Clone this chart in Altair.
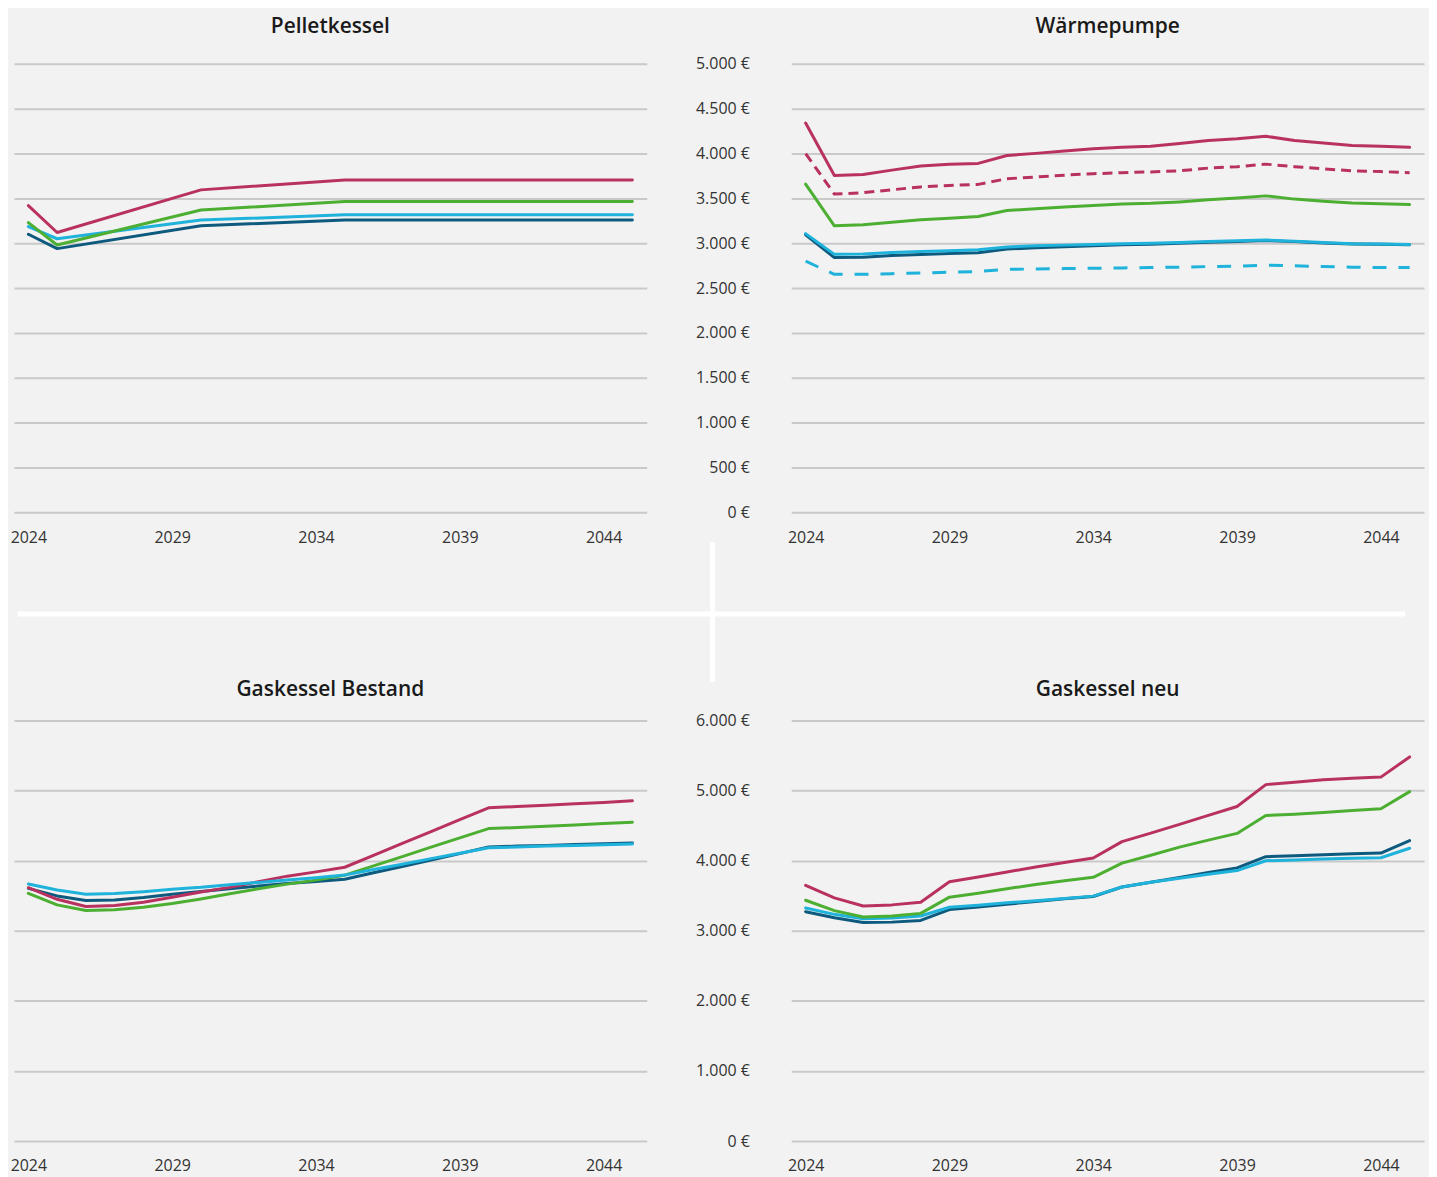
import altair as alt
import pandas as pd

years = list(range(2024, 2046))

# Pelletkessel (straight segments between these years)
pellet_years = [2024, 2025, 2030, 2035, 2045]
pellet_red = [3420, 3120, 3595, 3705, 3705]
pellet_green = [3230, 2980, 3370, 3465, 3465]
pellet_cyan = [3185, 3050, 3258, 3317, 3317]
pellet_dark = [3100, 2940, 3195, 3258, 3258]

# Wärmepumpe
wp_red = [4340, 3755, 3767, 3815, 3862, 3882, 3890, 3978, 4002, 4029, 4053,
          4069, 4081, 4113, 4145, 4165, 4193, 4145, 4117, 4089, 4081, 4069]
wp_red_dash = [4000, 3548, 3564, 3596, 3628, 3644, 3656, 3719, 3739, 3759, 3775,
               3787, 3795, 3807, 3838, 3854, 3882, 3854, 3830, 3807, 3799, 3787]
wp_green = [3659, 3194, 3206, 3234, 3262, 3278, 3298, 3365, 3385, 3405, 3421,
            3437, 3445, 3461, 3484, 3504, 3528, 3492, 3469, 3449, 3441, 3433]
wp_cyan = [3107, 2876, 2880, 2896, 2908, 2916, 2928, 2959, 2971, 2979, 2987,
           2995, 2999, 3007, 3019, 3027, 3035, 3023, 3007, 2995, 2991, 2987]
wp_dark = [3095, 2840, 2845, 2862, 2875, 2885, 2895, 2935, 2950, 2962, 2972,
           2982, 2990, 3000, 3012, 3020, 3030, 3018, 3003, 2992, 2988, 2984]
wp_cyan_dash = [2800, 2653, 2653, 2661, 2669, 2677, 2685, 2709, 2713, 2717, 2721,
                2725, 2729, 2733, 2740, 2744, 2756, 2748, 2740, 2733, 2729, 2729]

# Gaskessel Bestand
gb_red = [3615, 3450, 3346, 3360, 3407, 3478, 3554, 3620, 3700, 3780, 3841,
          3907, 4077, 4246, 4416, 4586, 4755, 4774, 4793, 4812, 4831, 4855]
gb_green = [3535, 3370, 3290, 3300, 3337, 3389, 3455, 3530, 3600, 3666, 3723,
            3794, 3927, 4058, 4195, 4327, 4459, 4473, 4492, 4511, 4530, 4549]
gb_cyan = [3667, 3582, 3521, 3531, 3559, 3592, 3620, 3658, 3691, 3724, 3757,
           3795, 3875, 3950, 4030, 4106, 4186, 4195, 4209, 4219, 4228, 4238]
gb_dark = [3606, 3498, 3432, 3441, 3474, 3521, 3560, 3600, 3640, 3675, 3705,
           3735, 3828, 3917, 4011, 4101, 4195, 4209, 4219, 4233, 4242, 4252]

# Gaskessel neu
gn_red = [3648, 3470, 3355, 3370, 3408, 3700, 3767, 3839, 3911, 3974, 4038,
          4273, 4393, 4518, 4648, 4774, 5086, 5120, 5154, 5178, 5193, 5481]
gn_green = [3436, 3288, 3196, 3211, 3249, 3480, 3537, 3600, 3662, 3715, 3763,
            3965, 4078, 4194, 4294, 4390, 4645, 4664, 4688, 4717, 4741, 4986]
gn_cyan = [3326, 3235, 3172, 3182, 3211, 3336, 3366, 3399, 3428, 3462, 3495,
           3625, 3692, 3750, 3807, 3860, 4000, 4009, 4024, 4034, 4043, 4178]
gn_dark = [3273, 3186, 3119, 3124, 3148, 3303, 3340, 3380, 3418, 3456, 3490,
           3625, 3692, 3760, 3831, 3898, 4058, 4072, 4086, 4100, 4110, 4288]

x_ticks = [2024, 2029, 2034, 2039, 2044]

RED = "#b9325f"
GREEN = "#4caf32"
CYAN = "#1fb2db"
DARK = "#0e5a7e"
GRID = "#c9c9c9"
BG = "#f2f2f2"
FONT = "Open Sans"


def panel(yrs, series, ymax, ystep, show_labels):
    x_enc = alt.X(
        "Jahr:Q",
        scale=alt.Scale(domain=[2023.5, 2045.5], nice=False, zero=False),
        axis=alt.Axis(values=x_ticks, format="d", labelFlush=False, grid=False,
                      domain=False, ticks=False, labelPadding=17, title=None,
                      labelFontSize=16, labelColor="#333333", labelFont=FONT),
    )
    y_axis_kwargs = dict(values=list(range(0, ymax + 1, ystep)), grid=True,
                         gridColor=GRID, gridWidth=2, domain=False, ticks=False,
                         title=None, labels=show_labels)
    if show_labels:
        y_axis_kwargs.update(
            labelExpr="replace(format(datum.value, ',d'), ',', '.') + ' €'",
            labelPadding=42, labelFontSize=16, labelColor="#333333",
            labelFont=FONT)
    y_enc = alt.Y("Wert:Q", scale=alt.Scale(domain=[0, ymax], nice=False),
                  axis=alt.Axis(**y_axis_kwargs))
    layers = []
    for vals, color, dash in series:
        df = pd.DataFrame({"Jahr": yrs, "Wert": vals})
        kw = dict(color=color, strokeWidth=3, strokeJoin="round")
        if dash:
            kw["strokeDash"] = dash
        else:
            kw["strokeCap"] = "round"
        layers.append(alt.Chart(df).mark_line(**kw).encode(x=x_enc, y=y_enc))
    return layers


def finish(layers, title, width, height, title_offset):
    return alt.layer(*layers).properties(
        width=width, height=height,
        title=alt.TitleParams(title, fontSize=21, fontWeight=600, font=FONT,
                              color="#1a1a1a", frame="group", anchor="middle",
                              offset=title_offset),
    )


p1_layers = panel(pellet_years,
                  [(pellet_dark, DARK, None), (pellet_cyan, CYAN, None),
                   (pellet_green, GREEN, None), (pellet_red, RED, None)],
                  5000, 500, False)
# decorative white divider cross between the panels
dummy = pd.DataFrame({"d": [0]})
hline = alt.Chart(dummy).mark_rule(color="white", strokeWidth=5).encode(
    x=alt.value(4), x2=alt.value(1396), y=alt.value(552))
vline = alt.Chart(dummy).mark_rule(color="white", strokeWidth=5).encode(
    x=alt.value(701), y=alt.value(480), y2=alt.value(620))
p1 = finish(p1_layers + [hline, vline], "Pelletkessel", 635, 450, 27)

p2 = finish(panel(years,
                  [(wp_cyan_dash, CYAN, [14, 12]), (wp_dark, DARK, None),
                   (wp_cyan, CYAN, None), (wp_green, GREEN, None),
                   (wp_red_dash, RED, [10, 6]), (wp_red, RED, None)],
                  5000, 500, True),
            "Wärmepumpe", 635, 450, 19)

p3 = finish(panel(years,
                  [(gb_dark, DARK, None), (gb_green, GREEN, None),
                   (gb_red, RED, None), (gb_cyan, CYAN, None)],
                  6000, 1000, False),
            "Gaskessel Bestand", 635, 422, 21)

p4 = finish(panel(years,
                  [(gn_dark, DARK, None), (gn_cyan, CYAN, None),
                   (gn_green, GREEN, None), (gn_red, RED, None)],
                  6000, 1000, True),
            "Gaskessel neu", 635, 422, 13)

chart = alt.concat(
    p1, p2, p3, p4, columns=2,
    spacing={"row": 209, "column": 145}, bounds="flush",
).properties(
    background=BG,
    padding={"left": 2, "top": 6, "right": 5, "bottom": 5},
).configure_view(stroke=None)

chart.save("out.html", embed_options={"renderer": "svg", "actions": False})
